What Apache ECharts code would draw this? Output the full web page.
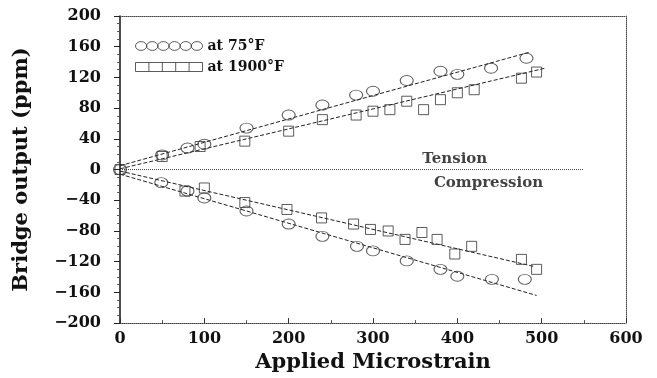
<!DOCTYPE html>
<html><head><meta charset="utf-8">
<script src="https://cdn.jsdelivr.net/npm/echarts@6/dist/echarts.min.js"></script>
<style>html,body{margin:0;padding:0;background:#fff}#c{width:657px;height:378px}</style>
</head><body><div id="c"></div>
<script>
// Tension and compression readings, [microstrain, ppm]
const tension75 = [[0,0],[50,19],[80,28],[100,33],[150,54],[200,71],[240,84],[280,97],[300,102],[340,116],[380,128],[400,124],[440,132],[482,145]];
const compression75 = [[49,-17],[80,-28],[100,-37],[150,-54],[200,-71],[240,-87],[281,-100],[300,-106],[340,-119],[380,-130],[400,-139],[441,-143],[480,-143]];
const tension1900 = [[0,0],[50,17],[95,30],[148,37],[200,50],[240,65],[280,71],[300,76],[320,78],[340,89],[360,78],[380,91],[400,100],[420,104],[476,119],[494,127]];
const compression1900 = [[77,-28],[100,-24],[148,-43],[198,-52],[239,-63],[277,-71],[297,-78],[318,-80],[338,-91],[358,-82],[376,-91],[397,-110],[417,-100],[476,-117],[494,-130]];
// Fitted straight lines (end points)
const fitT75 = [[0,5],[486,153]];
const fitT1900 = [[0,1],[504,132]];
const fitC75 = [[0,-6],[494,-164]];
const fitC1900 = [[0,-2],[490,-126]];
const zeroLine = [[0,0],[550,0]];
const regionLabels = [[397,13,'Tension'],[437,-18,'Compression']];
const seriesNames = ['at 75°F','at 1900°F'];

const FONT = 'DejaVu Serif';
const circlesIcon = 'path://' + [0,1,2,3,4,5].map(i => {
  const x0 = i*11.4;
  return `M${x0},4.5A5.7,4.5 0 1,1 ${x0+11.4},4.5A5.7,4.5 0 1,1 ${x0},4.5Z`;
}).join('');
const squaresIcon = 'path://M0,0H67V9H0Z' + [1,2,3,4].map(i => `M${i*13.4},0V9`).join('');

const chart = echarts.init(document.getElementById('c'));
const fitStyle = {color:'#222', width:1, type:[4,2]};
function fit(d){ return {type:'line', data:d, symbol:'none', lineStyle:fitStyle, silent:true, z:1}; }
chart.setOption({
  animation:false,
  backgroundColor:'#fff',
  grid:{left:120,right:31,top:16,bottom:54},
  legend:{
    data:[{name:seriesNames[0], icon:circlesIcon},{name:seriesNames[1], icon:squaresIcon}],
    orient:'vertical', left:130, top:34, itemWidth:67, itemHeight:9, itemGap:7,
    itemStyle:{color:'transparent', borderColor:'#333', borderWidth:1},
    textStyle:{fontFamily:FONT, fontWeight:'bold', fontSize:14, color:'#111'}
  },
  xAxis:[{
    type:'value', min:0, max:600, interval:100, position:'bottom',
    axisLine:{onZero:false, lineStyle:{color:'#333', type:'dotted', width:1}},
    axisTick:{show:true, inside:true, length:5, lineStyle:{color:'#333'}},
    minorTick:{show:true, splitNumber:2, length:3, lineStyle:{color:'#555'}},
    splitLine:{show:false},
    axisLabel:{margin:8, color:'#111', fontFamily:FONT, fontWeight:'bold', fontSize:16},
    name:'Applied Microstrain', nameLocation:'middle', nameGap:23,
    nameTextStyle:{fontFamily:FONT, fontWeight:'bold', fontSize:21, color:'#111'}
  },{
    type:'value', min:0, max:600, position:'top',
    axisLine:{show:true, onZero:false, lineStyle:{color:'#444', type:'dotted', width:1}},
    axisTick:{show:false}, axisLabel:{show:false}, splitLine:{show:false}
  }],
  yAxis:[{
    type:'value', min:-200, max:200, interval:40, position:'left',
    axisLine:{show:true, onZero:false, lineStyle:{color:'#111', width:1.5}},
    axisTick:{show:true, length:6, lineStyle:{color:'#222'}},
    minorTick:{show:true, splitNumber:4, length:3, lineStyle:{color:'#555'}},
    splitLine:{show:false},
    axisLabel:{margin:19, color:'#111', fontFamily:FONT, fontWeight:'bold', fontSize:16,
      formatter:v => v < 0 ? '\u2212' + Math.abs(v) : String(v)},
    name:'Bridge output (ppm)', nameLocation:'middle', nameGap:88, nameRotate:90,
    nameTextStyle:{fontFamily:FONT, fontWeight:'bold', fontSize:21, color:'#111'}
  },{
    type:'value', min:-200, max:200, position:'right',
    axisLine:{show:true, onZero:false, lineStyle:{color:'#444', type:'dotted', width:1}},
    axisTick:{show:false}, axisLabel:{show:false}, splitLine:{show:false}
  }],
  series:[
    {type:'line', data:zeroLine, symbol:'none', silent:true, z:1,
      lineStyle:{color:'#444', width:1, type:'dotted'}},
    fit(fitT75), fit(fitT1900), fit(fitC75), fit(fitC1900),
    {name:seriesNames[0], type:'scatter', data:tension75.concat(compression75),
      symbol:'circle', symbolSize:[13,10], z:3,
      itemStyle:{color:'transparent', borderColor:'#333', borderWidth:1}},
    {name:seriesNames[1], type:'scatter', data:tension1900.concat(compression1900),
      symbol:'rect', symbolSize:[10,10], z:3,
      itemStyle:{color:'transparent', borderColor:'#333', borderWidth:1}},
    {type:'scatter', data:regionLabels, symbolSize:0, silent:true, z:4,
      label:{show:true, position:'inside', formatter:p => p.value[2],
        fontFamily:FONT, fontWeight:'bold', fontSize:15, color:'#111'}}
  ]
});
</script></body></html>
